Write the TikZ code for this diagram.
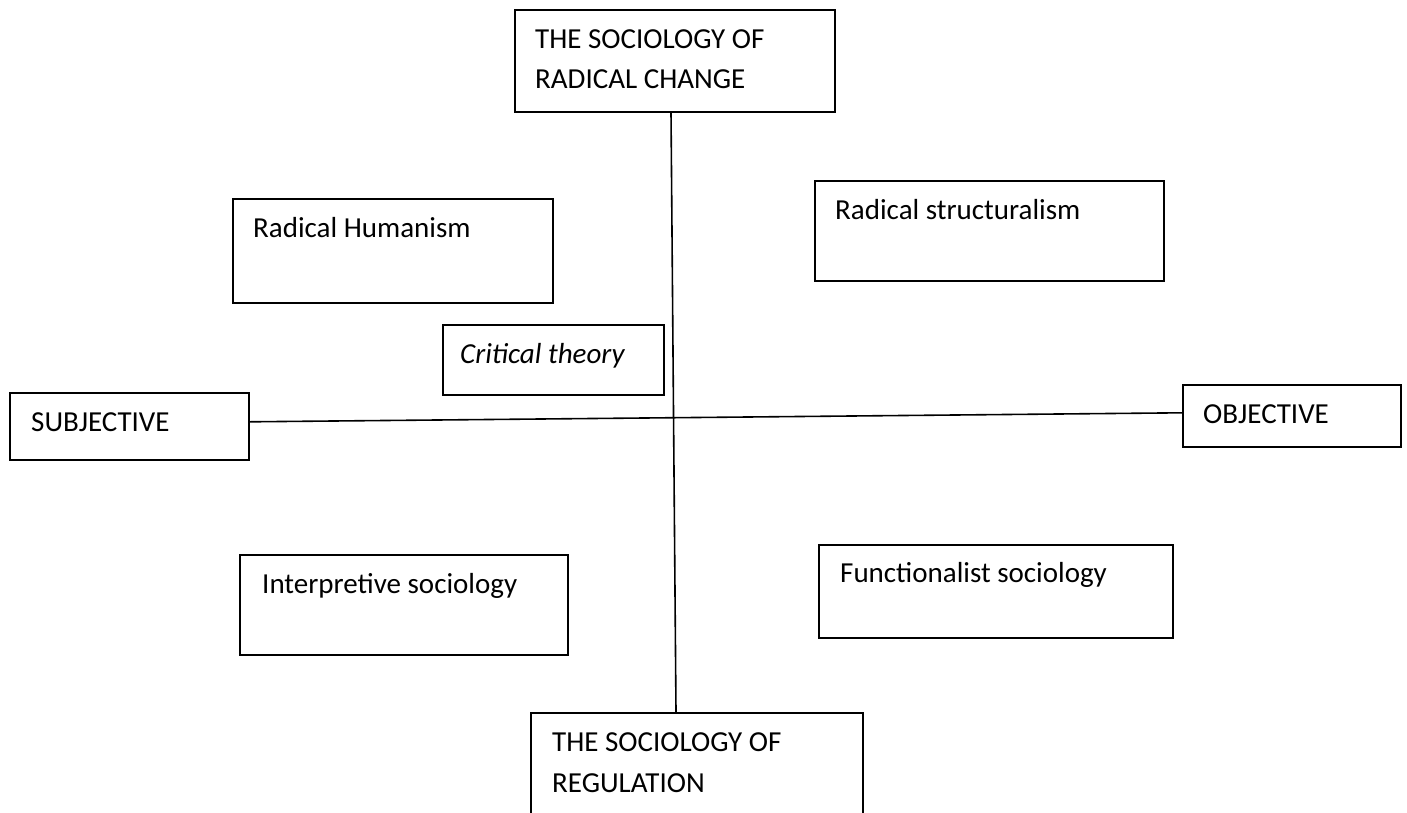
\documentclass[tikz,border=0pt]{standalone}
\usepackage{fontspec}
\setmainfont{Carlito}
\begin{document}
\begin{tikzpicture}[x=1pt,y=-1pt,
  box/.style={draw=black, line width=1.6pt, rectangle, anchor=north west, inner sep=0pt},
  txt/.style={anchor=base west, inner sep=0pt, font=\fontsize{29}{40}\selectfont},
  axis/.style={draw=black, line width=1.6pt}]
\useasboundingbox (0,0) rectangle (1407,812);
\clip (0,0) rectangle (1407,812);
\fill[white] (0,0) rectangle (1407,812);

% poles of the vertical axis
\node[box, minimum width=320pt, minimum height=102pt] (rc) at (514,9) {};
\node[txt] (rc1) at (535,48) {THE SOCIOLOGY OF};
\node[txt] (rc2) at (535,88) {RADICAL CHANGE};

\node[box, minimum width=332pt, minimum height=130pt] (rg) at (530,712) {};
\node[txt] (rg1) at (552,751) {THE SOCIOLOGY OF};
\node[txt] (rg2) at (552,792) {REGULATION};

% poles of the horizontal axis
\node[box, minimum width=239pt, minimum height=67pt] (subj) at (9,392) {};
\node[txt] (subjt) at (31,431) {SUBJECTIVE};

\node[box, minimum width=218pt, minimum height=62pt] (obj) at (1182,384) {};
\node[txt] (objt) at (1203,423) {OBJECTIVE};

% the four paradigms
\node[box, minimum width=320pt, minimum height=104pt] (rh) at (232,198) {};
\node[txt] (rht) at (253,237) {Radical Humanism};

\node[box, minimum width=221pt, minimum height=70pt] (ct) at (442,324) {};
\node[txt, font=\fontsize{29}{40}\selectfont\itshape] (ctt) at (460,363) {Critical theory};

\node[box, minimum width=349pt, minimum height=100pt] (rs) at (814,180) {};
\node[txt] (rst) at (835,219) {Radical structuralism};

\node[box, minimum width=328pt, minimum height=100pt] (is) at (239,554) {};
\node[txt] (ist) at (262,593) {Interpretive sociology};

\node[box, minimum width=354pt, minimum height=93pt] (fs) at (818,544) {};
\node[txt] (fst) at (840,582) {Functionalist sociology};

% axes
\draw[axis] ([xshift=157pt]rc.south west) -- ([xshift=146pt]rg.north west);
\draw[axis] ([yshift=4.5pt]subj.east) -- ([yshift=3pt]obj.west);
\end{tikzpicture}
\end{document}
